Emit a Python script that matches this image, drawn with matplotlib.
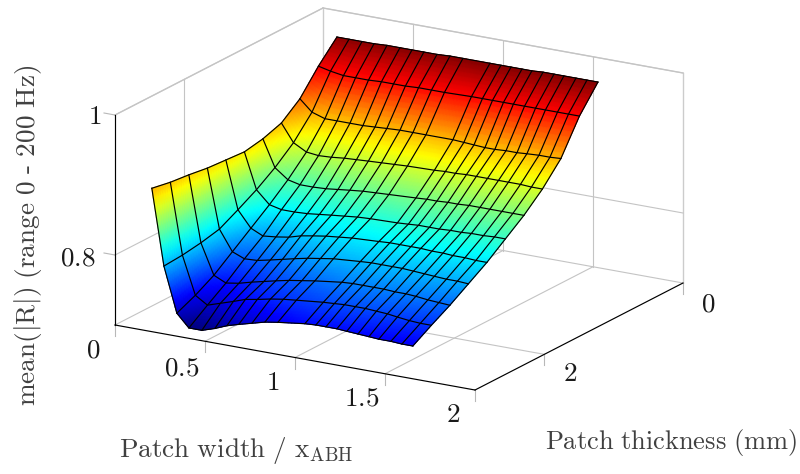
import numpy as np
import matplotlib
matplotlib.use('Agg')
import matplotlib.pyplot as plt
from matplotlib.colors import LinearSegmentedColormap

plt.rcParams['mathtext.fontset'] = 'cm'

# Patch width / x_ABH (one step of the sweep is absent, hence the wider gap)
width = [0.116, 0.183, 0.255, 0.322, 0.394, 0.466, 0.533, 0.599, 0.672, 0.744, 0.816,
         0.966, 1.027, 1.083, 1.144, 1.199, 1.261, 1.322, 1.377, 1.444, 1.505, 1.566]
# Patch thickness (mm)
thickness = [0.1, 0.367, 0.634, 0.901, 1.168, 1.435, 1.702, 1.969, 2.236, 2.503, 2.77]

# mean(|R|), one row per thickness
z_t0 = [.969, .969, .969, .969, .970, .970, .970, .970, .970, .971, .971, .971, .971, .971, .971, .971, .972, .972, .972, .972, .972, .972]
z_t1 = [.941, .937, .934, .934, .934, .935, .935, .935, .936, .936, .936, .937, .937, .937, .937, .937, .937, .937, .937, .937, .937, .937]
z_t2 = [.908, .892, .886, .886, .886, .886, .887, .888, .889, .889, .889, .889, .888, .887, .886, .886, .887, .887, .888, .889, .889, .890]
z_t3 = [.887, .862, .852, .850, .851, .853, .854, .855, .856, .857, .858, .859, .860, .860, .861, .861, .861, .861, .861, .861, .860, .860]
z_t4 = [.878, .840, .826, .822, .822, .823, .825, .827, .829, .830, .831, .833, .834, .834, .835, .835, .836, .836, .836, .836, .836, .836]
z_t5 = [.873, .822, .804, .800, .800, .801, .803, .805, .807, .809, .810, .811, .812, .813, .813, .813, .814, .814, .815, .815, .816, .816]
z_t6 = [.875, .807, .784, .776, .778, .781, .786, .789, .792, .794, .796, .798, .799, .799, .799, .799, .798, .798, .797, .797, .796, .796]
z_t7 = [.877, .793, .764, .757, .758, .762, .766, .770, .774, .777, .780, .783, .784, .784, .784, .784, .783, .782, .781, .780, .780, .779]
z_t8 = [.881, .787, .744, .736, .739, .744, .748, .752, .756, .759, .762, .767, .768, .768, .768, .768, .767, .767, .766, .764, .763, .762]
z_t9 = [.884, .783, .729, .718, .724, .730, .736, .739, .743, .746, .748, .752, .753, .754, .754, .754, .753, .752, .750, .748, .747, .747]
z_t10 = [.889, .781, .717, .699, .699, .705, .712, .717, .722, .727, .730, .735, .736, .736, .736, .735, .734, .733, .732, .732, .731, .731]

x_ticks = [0.5, 1, 1.5]
x_labels = ['0.5', '1', '1.5', '2']
y_ticks = [2]
z_ticks = [0.8, 1]

x_min, x_max = 0, 2
y_min, y_max = 0, 3
z_min, z_max = 0.7, 1

# pgfplots jet, not quite the matplotlib one
pgf_jet = LinearSegmentedColormap.from_list('pgf_jet', [
    (0, (0, 0, 128 / 255)),
    (1 / 8, (0, 0, 1)),
    (3 / 8, (0, 1, 1)),
    (5 / 8, (1, 1, 0)),
    (7 / 8, (1, 0, 0)),
    (1, (128 / 255, 0, 0)),
], N=512)


# axonometric view, same as the pgfplots axis
def proj(x, y, z):
    x, y, z = np.asarray(x, float), np.asarray(y, float), np.asarray(z, float)
    return 323 + 180 * x - 69.33 * y, 218 + 32.5 * x + 35.67 * y - 700 * (z - 0.7)


def line3(ax, p0, p1, color='#c4c4c4', lw=0.8, zorder=1):
    px, py = proj([p0[0], p1[0]], [p0[1], p1[1]], [p0[2], p1[2]])
    ax.plot(px, py, color=color, lw=lw, zorder=zorder, solid_capstyle='projecting')


fig = plt.figure(figsize=(8, 4.74), dpi=100)
ax = fig.add_axes([0, 0, 1, 1])
ax.set_xlim(0, 800)
ax.set_ylim(474, 0)
ax.axis('off')

# back walls
gray_box = '#cccccc'
line3(ax, (x_min, y_max, z_max), (x_min, y_min, z_max), gray_box, 1.0)
line3(ax, (x_min, y_min, z_max), (x_max, y_min, z_max), gray_box, 1.0)
line3(ax, (x_max, y_min, z_max), (x_max, y_min, z_min), gray_box, 1.0)
line3(ax, (x_min, y_min, z_max), (x_min, y_min, z_min), gray_box, 1.0)
line3(ax, (x_min, y_max, z_min), (x_min, y_min, z_min))
line3(ax, (x_min, y_min, z_min), (x_max, y_min, z_min))

# grid
for xt in x_ticks:
    line3(ax, (xt, y_max, z_min), (xt, y_min, z_min))
    line3(ax, (xt, y_min, z_min), (xt, y_min, z_max))
for yt in y_ticks:
    line3(ax, (x_max, yt, z_min), (x_min, yt, z_min))
    line3(ax, (x_min, yt, z_min), (x_min, yt, z_max))
for zt in z_ticks:
    line3(ax, (x_min, y_max, zt), (x_min, y_min, zt))
    line3(ax, (x_min, y_min, zt), (x_max, y_min, zt))

# outer ticks
for xt in [0] + x_ticks + [2]:
    px, py = proj(xt, y_max, z_min)
    ax.plot([px, px], [py, py + 11], color='#b8b8b8', lw=0.8, zorder=1)
for yt in y_ticks + [0]:
    px, py = proj(x_max, yt, z_min)
    ax.plot([px, px], [py, py + 11], color='#b8b8b8', lw=0.8, zorder=1)
for zt in z_ticks:
    px, py = proj(x_min, y_max, zt)
    ax.plot([px - 11, px], [py - 2, py], color='#b8b8b8', lw=0.8, zorder=1)

# surface, colours run through the colormap between the vertices like shader=interp
Z = np.array([z_t0, z_t1, z_t2, z_t3, z_t4, z_t5, z_t6, z_t7, z_t8, z_t9, z_t10])
X, Y = np.meshgrid(width, thickness)
n = 8
u = np.arange((len(width) - 1) * n + 1) / n
v = np.arange((len(thickness) - 1) * n + 1) / n
iu = np.minimum(u.astype(int), len(width) - 2)
iv = np.minimum(v.astype(int), len(thickness) - 2)
fu = (u - iu)[None, :]
fv = (v - iv)[:, None]


def fine(A):
    a00 = A[np.ix_(iv, iu)]
    a01 = A[np.ix_(iv, iu + 1)]
    a10 = A[np.ix_(iv + 1, iu)]
    a11 = A[np.ix_(iv + 1, iu + 1)]
    return (a00 * (1 - fu) + a01 * fu) * (1 - fv) + (a10 * (1 - fu) + a11 * fu) * fv


Xf, Yf, Zf = fine(X), fine(Y), fine(Z)
Pxf, Pyf = proj(Xf, Yf, Zf)
ax.pcolormesh(Pxf, Pyf, Zf, shading='gouraud', cmap=pgf_jet, vmin=Z.min(), vmax=Z.max(), zorder=2)

# facet lines
Px, Py = proj(X, Y, Z)
for j in range(Z.shape[0]):
    ax.plot(Px[j], Py[j], color='black', lw=0.85, zorder=3, solid_joinstyle='round')
for i in range(Z.shape[1]):
    ax.plot(Px[:, i], Py[:, i], color='black', lw=0.85, zorder=3, solid_joinstyle='round')

# front axis lines
line3(ax, (x_min, y_max, z_min), (x_min, y_max, z_max), 'black', 0.85, 4)
line3(ax, (x_min, y_max, z_min), (x_max, y_max, z_min), 'black', 0.85, 1.5)
line3(ax, (x_max, y_max, z_min), (x_max, y_min, z_min), 'black', 0.85, 1.5)

# tick labels
tick_color = '#1a1a1a'
tick_size = 19.5
ax.text(95, 116.5, '$1$', fontsize=tick_size, color=tick_color, ha='center', va='center')
ax.text(78, 258, '$0.8$', fontsize=tick_size, color=tick_color, ha='center', va='center')
ax.text(93, 351, '$0$', fontsize=tick_size, color=tick_color, ha='center', va='center')
for lab, (tx, ty) in zip(x_labels, [(182, 369), (273, 383), (362, 399), (453, 414.5)]):
    ax.text(tx, ty, '$' + lab + '$', fontsize=tick_size, color=tick_color, ha='center', va='center')
ax.text(570, 374, '$2$', fontsize=tick_size, color=tick_color, ha='center', va='center')
ax.text(708, 305, '$0$', fontsize=tick_size, color=tick_color, ha='center', va='center')

# axis labels
label_color = '#404040'
ax.text(236, 451, r'$\mathrm{Patch\ width\ /\ x_{ABH}}$', fontsize=19.6, color=label_color, ha='center', va='center')
ax.text(671, 442, r'$\mathrm{Patch\ thickness\ (mm)}$', fontsize=19, color=label_color, ha='center', va='center')
ax.text(28, 235, '$\\mathrm{mean(|R|)\\ (range\\ 0\\ }$-$\\mathrm{\\ 200\\ Hz)}$', fontsize=19.6, color=label_color,
        ha='center', va='center', rotation=90, family='cmr10')

plt.savefig('out.png', dpi=100)
